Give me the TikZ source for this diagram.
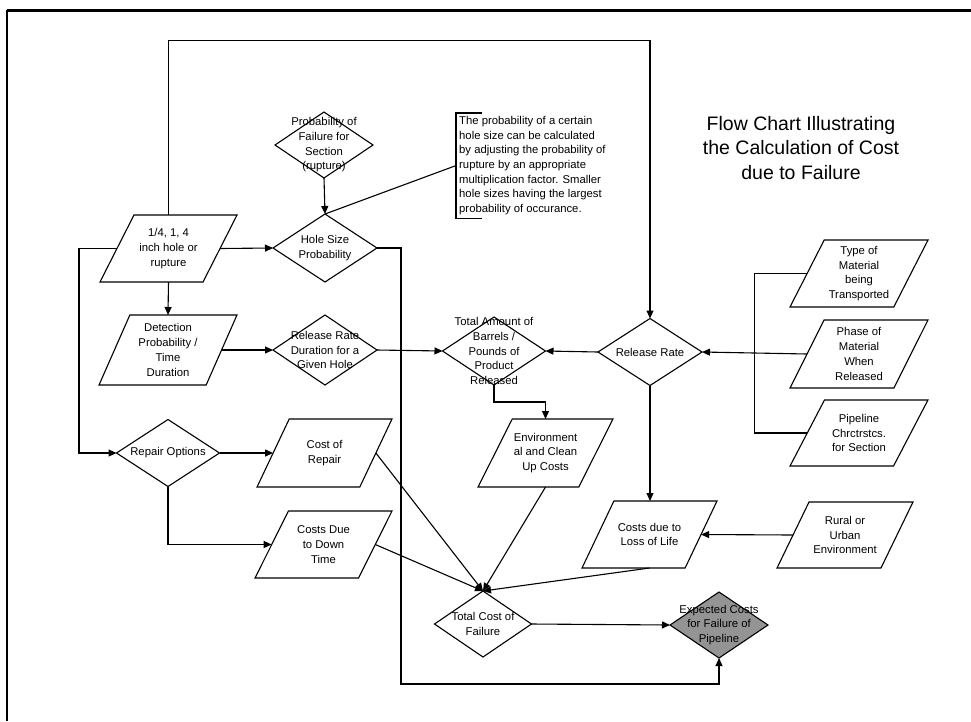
\documentclass[tikz,border=0pt]{standalone}
\usepackage{fontspec}
\setmainfont{Liberation Sans}
\usetikzlibrary{shapes.geometric,arrows.meta}
\begin{document}
\begin{tikzpicture}[x=1pt,y=-1pt,
  ln/.style={line width=1.1pt},
  arr/.style={ln,-{Triangle[length=8pt,width=7pt]}},
  dia/.style={diamond, draw, ln, inner sep=1pt, outer sep=0pt, aspect=1,
    minimum width=104pt, minimum height=68pt},
  para/.style={trapezium, draw, ln, trapezium stretches=true, inner sep=2pt,
    outer sep=0pt, minimum height=68pt},
  txt/.style={font=\fontsize{11.3}{14.7}\selectfont, align=center, inner sep=0pt},
  ttl/.style={font=\fontsize{19.5}{24.5}\selectfont, align=center, inner sep=0pt},
  notetxt/.style={font=\fontsize{11.3}{14.7}\selectfont, align=left, inner xsep=3pt, inner ysep=3pt},
]
\useasboundingbox (0,0) rectangle (971,721);

% frame
\draw[line width=3pt] (7,10) -- (971,10);
\draw[line width=1.8pt] (7,10) -- (7,721);

% title
\node[ttl] (title) at (801,148) {Flow Chart Illustrating\\the Calculation of Cost\\due to Failure};

% diamonds
\node[dia, minimum width=98pt, minimum height=66pt,
  label={[txt]center:{Probability of\\Failure for\\Section\\(rupture)}}] (pf) at (324,145) {};
\node[dia, label={[txt]center:{Hole Size\\Probability}}] (hs) at (325,248) {};
\node[dia, minimum height=70pt,
  label={[txt]center:{Release Rate\\Duration for a\\Given Hole}}] (rd) at (325,350) {};
\node[dia, minimum width=103pt,
  label={[txt]center:{Total Amount of\\Barrels /\\Pounds of\\Product\\Released}}] (ta) at (494,351) {};
\node[dia, minimum height=67pt, label={[txt]center:{Release Rate}}] (rr) at (650,352) {};
\node[dia, minimum width=103pt, minimum height=67pt,
  label={[txt]center:{Repair Options}}] (ro) at (168,453) {};
\node[dia, minimum width=97pt, minimum height=66pt,
  label={[txt]center:{Total Cost of\\Failure}}] (tc) at (483,624) {};
\node[dia, fill=black!42, minimum width=98pt, minimum height=66pt,
  label={[txt]center:{Expected Costs\\for Failure of\\Pipeline}}] (ec) at (719,625) {};

% parallelograms
\node[para, trapezium left angle=63.8, trapezium right angle=116.2,
  minimum width=137pt, minimum height=67pt,
  label={[txt]center:{1/4, 1, 4\\inch hole or\\rupture}}] (inp) at (168.5,248.5) {};
\node[para, trapezium left angle=68, trapezium right angle=112,
  minimum width=138pt, minimum height=70pt,
  label={[txt]center:{Detection\\Probability /\\Time\\Duration}}] (det) at (168,350) {};
\node[para, trapezium left angle=65.5, trapezium right angle=114.5,
  minimum width=135pt,
  label={[txt]center:{Cost of\\Repair}}] (cr) at (324.5,453) {};
\node[para, trapezium left angle=64.5, trapezium right angle=115.5,
  minimum width=137pt, minimum height=67pt,
  label={[txt]center:{Costs Due\\to Down\\Time}}] (cd) at (323.5,544.5) {};
\node[para, trapezium left angle=62.8, trapezium right angle=117.2,
  minimum width=135pt,
  label={[txt]center:{Environment\\al and Clean\\Up Costs}}] (env) at (545.5,453) {};
\node[para, trapezium left angle=63.8, trapezium right angle=116.2,
  minimum width=138pt, minimum height=67pt,
  label={[txt]center:{Type of\\Material\\being\\Transported}}] (tm) at (859,273.5) {};
\node[para, trapezium left angle=64, trapezium right angle=116,
  minimum width=138pt,
  label={[txt]center:{Phase of\\Material\\When\\Released}}] (ph) at (859,354) {};
\node[para, trapezium left angle=63.5, trapezium right angle=116.5,
  minimum width=138pt, minimum height=66pt,
  label={[txt]center:{Pipeline\\Chrctrstcs.\\for Section}}] (pc) at (859,433) {};
\node[para, trapezium left angle=65.9, trapezium right angle=114.1,
  minimum width=135pt, minimum height=67pt,
  label={[txt]center:{Costs due to\\Loss of Life}}] (ll) at (649.5,534.5) {};
\node[para, trapezium left angle=66, trapezium right angle=114,
  minimum width=136pt, minimum height=66pt,
  label={[txt]center:{Rural or\\Urban\\Environment}}] (ru) at (845,535) {};

% annotation with bracket
\node[notetxt, anchor=north west] (note) at (456,113)
  {The probability of a certain\\hole size can be calculated\\by adjusting the probability of\\rupture by an appropriate\\multiplication factor. Smaller\\hole sizes having the largest\\probability of occurance.};
\draw[ln] ([xshift=26pt]note.north west) -- (note.north west) -- (note.south west) -- ++(26,0);
\draw[ln] (note.west) -- (hs.north);

% connectors
\draw[arr] (inp.north) -- ++(0,-174.5) -| (rr.north);
\draw[arr] (pf.south) -- (hs.north);
\draw[arr] (inp.east) -- (hs.west);
\draw[arr] (inp.west) -- ++(-38,0) |- (ro.west);
\draw[arr] (inp.south) -- (det.north);
\draw[arr] (det.east) -- (rd.west);
\draw[arr] (rd.east) -- (ta.west);
\draw[arr] (rr.west) -- (ta.east);
\draw[arr] (ta.south) -- ++(0,17) -| (env.north);
\draw[ln] (tm.west) -- ++(-53,0) |- (pc.west);
\draw[arr] (ph.west) -- (rr.east);
\draw[arr] (rr.south) -- (rr.south |- ll.north);
\draw[arr] (ru.west) -- (ll.east);
\draw[arr] (ro.east) -- (cr.west);
\draw[arr] (ro.south) |- (cd.west);
\draw[arr] (cr.east) -- (tc.north);
\draw[arr] (cd.east) -- (tc.north);
\draw[arr] (env.south) -- (tc.north);
\draw[arr] (ll.south) -- (tc.north);
\draw[arr] (tc.east) -- (ec.west);
\draw[arr] (hs.east) -| ++(24,436) -| (ec.south);
\end{tikzpicture}
\end{document}
